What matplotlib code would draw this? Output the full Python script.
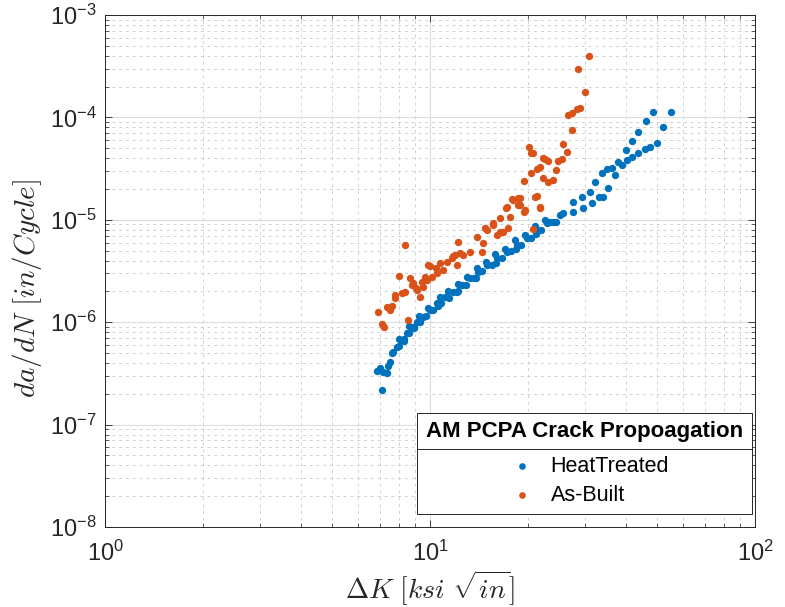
import matplotlib
matplotlib.use("Agg")
import matplotlib.pyplot as plt
from matplotlib.lines import Line2D
from matplotlib.ticker import LogLocator, NullFormatter

# HeatTreated: dK [ksi sqrt(in)], da/dN [in/cycle]
ht_dk = [6.85, 7.16, 7.36, 7.02, 7.53, 7.63, 7.90, 8.18, 8.48, 8.79,
         9.10, 9.53, 10.0, 10.49, 11.12, 11.77, 12.53, 13.28, 14.09, 14.93,
         16.03, 17.21, 18.48, 19.85, 21.3, 22.86, 25.1, 23.4, 25.7, 27.6,
         29.6, 27.6, 29.3, 31.1, 31.5, 33.0, 34.1, 35.4, 32.2, 33.8,
         35.0, 36.2, 37.1, 38.0, 38.9, 40.3, 41.8, 43.8, 45.9, 47.5,
         49.9, 40.1, 41.8, 43.8, 46.2, 48.7, 52.2, 55.0, 7.12,
         7.72, 8.03, 8.32, 8.61, 8.93, 9.31, 9.75, 10.2, 10.8, 11.4,
         12.15, 12.9, 13.65, 14.5, 15.46, 16.6, 17.8, 19.1, 20.5, 22.0,
         23.9, 10.73, 12.19, 13.95, 15.85, 18.27, 21.0, 7.43,
         8.03, 8.61, 9.25, 9.86, 11.36, 13.0, 14.86, 17.0, 19.6, 22.6,
         8.32, 8.93, 10.59, 12.1, 13.86, 15.96, 18.4, 21.2, 24.4]
ht_dadn = [3.36e-7, 3.26e-7, 3.19e-7, 3.57e-7, 4.11e-7, 5.0e-7, 5.77e-7, 6.70e-7, 7.85e-7, 9.04e-7,
           1.01e-6, 1.13e-6, 1.32e-6, 1.53e-6, 1.77e-6, 1.99e-6, 2.31e-6, 2.69e-6, 3.11e-6, 3.62e-6,
           4.21e-6, 4.89e-6, 5.68e-6, 6.61e-6, 7.96e-6, 9.25e-6, 1.11e-5, 9.58e-6, 1.16e-5, 1.2e-5,
           1.29e-5, 1.5e-5, 1.68e-5, 1.88e-5, 1.45e-5, 1.68e-5, 1.68e-5, 2.03e-5, 2.36e-5, 2.88e-5,
           3.13e-5, 3.18e-5, 2.74e-5, 3.69e-5, 3.42e-5, 3.83e-5, 4.07e-5, 4.46e-5, 4.88e-5, 5.1e-5,
           5.58e-5, 4.81e-5, 5.93e-5, 7.26e-5, 9.29e-5, 1.14e-4, 8.0e-5, 1.14e-4, 2.18e-7,
           5.12e-7, 5.86e-7, 6.78e-7, 7.85e-7, 8.97e-7, 1.0e-6, 1.15e-6, 1.32e-6, 1.54e-6, 1.74e-6,
           2.02e-6, 2.33e-6, 2.7e-6, 3.13e-6, 3.62e-6, 4.24e-6, 4.91e-6, 5.68e-6, 6.71e-6, 7.96e-6,
           9.58e-6, 1.76e-6, 2.36e-6, 3.38e-6, 4.65e-6, 6.35e-6, 8.69e-6, 3.73e-7,
           6.78e-7, 9.18e-7, 1.15e-6, 1.38e-6, 2.03e-6, 2.78e-6, 3.91e-6, 5.2e-6, 7.13e-6, 9.91e-6,
           6.55e-7, 8.7e-7, 1.43e-6, 1.95e-6, 2.73e-6, 3.8e-6, 5.13e-6, 7.23e-6, 9.62e-6]

# As-Built
ab_dk = [8.38, 6.93, 7.10, 7.22, 7.36, 7.63, 7.53, 7.80, 8.05, 8.19,
         8.38, 8.58, 8.68, 8.89, 9.06, 9.31, 9.42, 9.77, 9.88, 10.12,
         10.49, 10.74, 11.0, 11.25, 11.66, 11.94, 12.22, 10.0, 12.07, 12.66,
         13.28, 13.92, 14.43, 14.6, 14.93, 15.67, 16.03, 16.4, 16.8, 17.2,
         17.6, 17.4, 18.0, 18.7, 18.9, 19.4, 21.0, 21.8, 20.8, 20.1,
         20.7, 22.6, 23.1, 24.8, 21.8, 21.3, 20.5, 19.5, 22.3, 23.1,
         23.9, 24.5, 21.3, 21.8, 17.9, 19.6, 30.8, 28.6, 30.0, 29.0,
         28.3, 27.3, 26.5, 27.3, 25.7, 26.4, 25.4, 8.79, 9.1, 9.53,
         11.8, 12.36, 10.43, 9.65, 7.80, 14.76, 17.1, 18.6, 18.9, 16.4,
         15.67, 20.5, 22.3]
ab_dadn = [5.68e-6, 1.27e-6, 9.6e-7, 9.04e-7, 1.40e-6, 1.44e-6, 1.32e-6, 1.71e-6, 2.83e-6, 1.91e-6,
           1.99e-6, 1.05e-6, 2.69e-6, 2.4e-6, 2.14e-6, 1.77e-6, 2.49e-6, 2.58e-6, 3.62e-6, 2.78e-6,
           3.0e-6, 3.76e-6, 3.24e-6, 3.9e-6, 4.21e-6, 4.53e-6, 6.11e-6, 3.54e-6, 3.62e-6, 4.53e-6,
           4.89e-6, 6.84e-6, 4.89e-6, 5.89e-6, 7.96e-6, 9.25e-6, 7.1e-6, 1.03e-5, 7.63e-6, 1.34e-5,
           1.07e-5, 8.28e-6, 1.56e-5, 1.62e-5, 1.4e-5, 1.2e-5, 1.68e-5, 1.34e-5, 8.07e-6, 5.1e-5,
           4.52e-5, 3.9e-5, 3.78e-5, 3.78e-5, 3.3e-5, 3.11e-5, 2.88e-5, 2.41e-5, 2.54e-5, 2.36e-5,
           2.45e-5, 3.06e-5, 1.71e-5, 1.29e-5, 1.58e-5, 1.25e-5, 4.0e-4, 2.95e-4, 1.78e-4, 1.24e-4,
           1.21e-4, 1.11e-4, 1.05e-4, 7.53e-5, 5.46e-5, 4.62e-5, 3.9e-5, 2.31e-6, 2.06e-6, 2.22e-6,
           4.41e-6, 4.75e-6, 3.38e-6, 2.76e-6, 1.85e-6, 8.26e-6, 1.31e-5, 1.4e-5, 1.62e-5, 7.62e-6,
           8.9e-6, 4.46e-5, 3.98e-5]

BLUE = "#0072BD"
ORANGE = "#D95319"
DARK = "#262626"

plt.rcParams["font.family"] = ["Liberation Sans", "DejaVu Sans"]
plt.rcParams["mathtext.fontset"] = "cm"

fig = plt.figure(figsize=(7.85, 6.07), dpi=100)
ax = fig.add_axes([0.1338, 0.1318, 0.828, 0.8435])

ax.scatter(ht_dk, ht_dadn, s=28, color=BLUE, linewidths=0, label="HeatTreated", zorder=3)
ax.scatter(ab_dk, ab_dadn, s=28, color=ORANGE, linewidths=0, label="As-Built", zorder=3)

ax.set_xscale("log")
ax.set_yscale("log")
ax.set_xlim(1, 100)
ax.set_ylim(1e-8, 1e-3)

ax.xaxis.set_major_locator(LogLocator(base=10, numticks=10))
ax.yaxis.set_major_locator(LogLocator(base=10, numticks=10))
ax.xaxis.set_minor_locator(LogLocator(base=10, subs=range(2, 10), numticks=10))
ax.yaxis.set_minor_locator(LogLocator(base=10, subs=range(2, 10), numticks=10))
ax.xaxis.set_minor_formatter(NullFormatter())
ax.yaxis.set_minor_formatter(NullFormatter())

ax.grid(True, which="major", color="#dcdcdc", lw=0.8)
ax.grid(True, which="minor", color="#d0d0d0", lw=0.7, linestyle=(0, (3, 4)))
ax.set_axisbelow(True)

ax.tick_params(which="both", direction="in", top=True, right=True,
               colors=DARK, labelsize=17)
ax.tick_params(which="major", length=5, width=0.6)
ax.tick_params(which="minor", length=3, width=0.5)
ax.tick_params(axis="x", which="major", pad=10)
ax.tick_params(axis="y", which="major", pad=6)
for sp in ax.spines.values():
    sp.set_color(DARK)
    sp.set_linewidth(0.7)

ax.set_xlabel(r"$\Delta K\ [ksi\ \sqrt{in}]$", fontsize=20, color=DARK, labelpad=2)
ax.set_ylabel(r"$da/dN\ [in/Cycle]$", fontsize=21, color=DARK)
ax.yaxis.set_label_coords(-0.094, 0.465)

leg = ax.legend(loc="lower right", title="AM PCPA Crack Propoagation",
                fontsize=15.5, title_fontproperties={"weight": "bold", "size": 16},
                frameon=True, fancybox=False, edgecolor=DARK, framealpha=1,
                markerscale=0.9, handletextpad=0.35, borderpad=0.4,
                labelspacing=0.35, borderaxespad=0,
                bbox_to_anchor=(0.995, 0.025))
leg.get_frame().set_linewidth(0.7)
leg._legend_box.sep = 10

# separator line under the legend title, in axes coordinates
fig.canvas.draw()
renderer = fig.canvas.get_renderer()
frame_bb = leg.get_frame().get_window_extent(renderer)
title_bb = leg.get_title().get_window_extent(renderer)
text_bb = leg.get_texts()[0].get_window_extent(renderer)
inv = ax.transAxes.inverted()
y_disp = (title_bb.y0 + text_bb.y1) / 2
(x0, y0) = inv.transform((frame_bb.x0, y_disp))
(x1, _) = inv.transform((frame_bb.x1, y_disp))
ax.add_line(Line2D([x0, x1], [y0, y0], transform=ax.transAxes,
                   color=DARK, lw=0.7, zorder=10, clip_on=False))

fig.savefig("out.png", dpi=100, facecolor="white")
